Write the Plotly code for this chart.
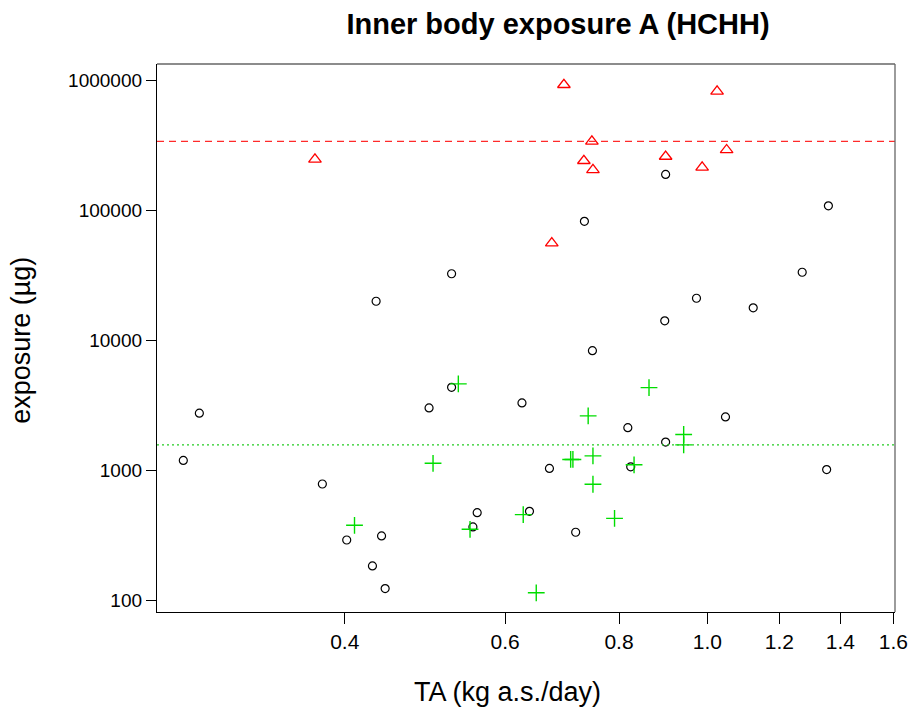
import plotly.graph_objects as go

# ---- data ----
ta_other = [0.266, 0.277, 0.378, 0.402, 0.429, 0.433, 0.439, 0.443, 0.495, 0.524,
            0.524, 0.553, 0.559, 0.626, 0.638, 0.671, 0.717, 0.733, 0.748, 0.818,
            0.824, 0.898, 0.900, 0.900, 0.973, 1.047, 1.123, 1.271, 1.352, 1.358]
exp_other = [1200, 2770, 790, 293, 185, 20100, 315, 124, 3040, 4380,
             32700, 369, 475, 3320, 487, 1040, 336, 82800, 8380, 2140,
             1070, 14200, 190000, 1660, 21200, 2590, 17900, 33600, 1020, 109000]

ta_high = [0.371, 0.675, 0.696, 0.732, 0.747, 0.749, 0.900, 0.987, 1.025, 1.050]
exp_high = [248000, 56300, 930000, 242000, 341000, 206000, 261000, 215000, 826000, 293000]

ta_low = [0.410, 0.500, 0.533, 0.549, 0.628, 0.649, 0.708, 0.712, 0.740, 0.749,
          0.749, 0.791, 0.831, 0.863, 0.942, 0.942]
exp_low = [380, 1140, 4650, 354, 459, 115, 1220, 1220, 2640, 1300,
           786, 430, 1110, 4350, 1900, 1580]

ref_high = 341000
ref_low = 1580

x_ticks = [0.4, 0.6, 0.8, 1.0, 1.2, 1.4, 1.6]
x_ticktext = ["0.4", "0.6", "0.8", "1.0", "1.2", "1.4", "1.6"]
y_ticks = [100, 1000, 10000, 100000, 1000000]
y_ticktext = ["100", "1000", "10000", "100000", "1000000"]

FONT = "Arial, 'Liberation Sans', sans-serif"

fig = go.Figure()
fig.add_trace(go.Scatter(x=ta_other, y=exp_other, mode="markers",
                         marker=dict(symbol="circle-open", size=8, color="black",
                                     line=dict(width=1.2, color="black")),
                         showlegend=False))
fig.add_trace(go.Scatter(x=ta_high, y=exp_high, mode="markers",
                         marker=dict(symbol="triangle-up-open", size=11, color="#ff0000",
                                     line=dict(width=1.3, color="#ff0000")),
                         showlegend=False))
fig.add_trace(go.Scatter(x=ta_low, y=exp_low, mode="markers",
                         marker=dict(symbol="cross-thin-open", size=12, color="#00dd00",
                                     line=dict(width=1.4, color="#00dd00")),
                         showlegend=False))

fig.add_shape(type="line", xref="paper", x0=0, x1=1, yref="y", y0=ref_high, y1=ref_high,
              line=dict(color="#ff2a2a", width=1.2, dash="7px,5px"))
fig.add_shape(type="line", xref="paper", x0=0, x1=1, yref="y", y0=ref_low, y1=ref_low,
              line=dict(color="#22cc22", width=1.1, dash="2px,3px"))
# frame top/right (gray)
fig.add_shape(type="line", xref="paper", yref="paper", x0=0, x1=1, y0=1, y1=1,
              line=dict(color="#666666", width=1.3))
fig.add_shape(type="line", xref="paper", yref="paper", x0=1, x1=1, y0=0, y1=1,
              line=dict(color="#666666", width=1.3))

fig.update_layout(
    width=908, height=711,
    margin=dict(l=157, r=13, t=64, b=99, autoexpand=False),
    paper_bgcolor="white", plot_bgcolor="white",
    font=dict(family=FONT, color="black"),
    title=dict(text="<b>Inner body exposure A (HCHH)</b>", x=558/908, xanchor="center",
               xref="container", y=1 - 24/711, yanchor="middle", yref="container",
               font=dict(size=29, family=FONT, color="black")),
    annotations=[
        dict(text="TA (kg a.s./day)", xref="paper", yref="paper", x=0.475, y=-0.146,
             xanchor="center", yanchor="middle", showarrow=False,
             font=dict(size=27, family=FONT, color="black")),
        dict(text="exposure (µg)", xref="paper", yref="paper", x=-0.1834, y=0.496,
             xanchor="center", yanchor="middle", showarrow=False, textangle=-90,
             font=dict(size=27, family=FONT, color="black")),
    ],
)
fig.update_xaxes(type="log", range=[-0.6040, 0.2060], tickvals=x_ticks, ticktext=x_ticktext,
                 showgrid=False, zeroline=False, showline=True, linecolor="black", linewidth=1.3,
                 ticks="outside", ticklen=11, tickwidth=1.2, tickcolor="black",
                 ticklabeloverflow="allow", automargin=False,
                 tickfont=dict(size=21, family=FONT, color="black"))
fig.update_yaxes(type="log", range=[1.913, 6.128], tickvals=y_ticks, ticktext=y_ticktext,
                 showgrid=False, zeroline=False, showline=True, linecolor="black", linewidth=1.3,
                 ticks="outside", ticklen=10, tickwidth=1.2, tickcolor="black",
                 ticklabelstandoff=0, automargin=False,
                 tickfont=dict(size=19, family=FONT, color="black"))

fig.write_html("out.html", config={"displayModeBar": False},
               post_script="document.body.style.margin='0';")
